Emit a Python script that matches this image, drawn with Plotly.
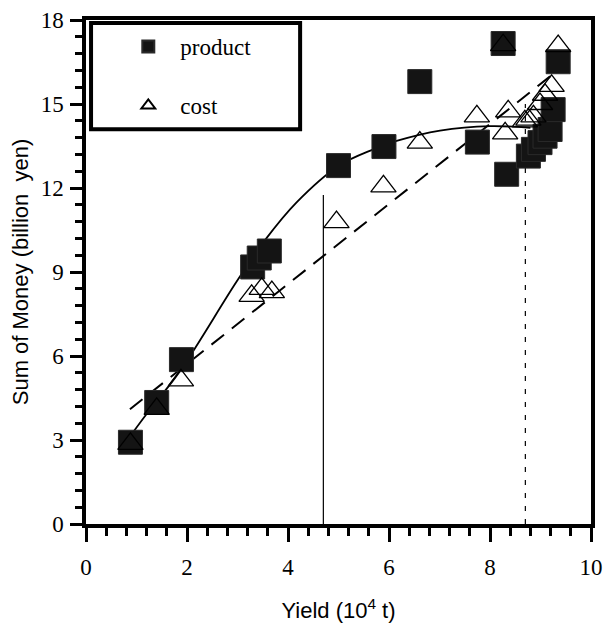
import plotly.graph_objects as go

# ---- data ----
product_x = [0.88, 1.40, 1.89, 3.30, 3.43, 3.63, 5.00, 5.90, 6.61, 7.75, 8.26, 8.33,
             8.76, 8.86, 8.99, 9.09, 9.19, 9.25, 9.35]
product_y = [2.92, 4.34, 5.87, 9.18, 9.50, 9.75, 12.80, 13.48, 15.80, 13.64, 17.16, 12.49,
             13.14, 13.38, 13.62, 13.85, 14.09, 14.80, 16.51]

cost_x = [0.88, 1.40, 1.88, 3.28, 3.48, 3.68, 4.96, 5.89, 6.61, 7.74, 8.26, 8.30,
          8.36, 8.69, 8.76, 8.86, 8.99, 9.09, 9.22, 9.35]
cost_y = [2.86, 4.11, 5.13, 8.15, 8.40, 8.28, 10.78, 12.06, 13.62, 14.56, 17.10, 13.95,
          14.74, 14.38, 14.44, 14.56, 15.00, 15.33, 15.65, 17.07]

# fitted curve for product (solid) and line for cost (dashed)
product_fit_x = [0.88, 1.20, 1.86, 2.98, 3.54, 4.17, 5.00, 5.69, 6.15, 7.01, 8.00, 8.80]
product_fit_y = [3.15, 3.93, 5.46, 8.65, 10.13, 11.49, 12.79, 13.38, 13.68, 14.05, 14.21, 14.15]
cost_fit_x = [0.87, 9.20]
cost_fit_y = [4.10, 16.00]

# vertical reference lines
solid_vline_x = [4.70, 4.70]
solid_vline_y = [0.0, 11.75]
dashed_vline_x = [8.70, 8.70]
dashed_vline_y = [0.0, 15.0]

x_ticks = [0, 2, 4, 6, 8, 10]
y_ticks = [0, 3, 6, 9, 12, 15, 18]

serif = "Liberation Serif, Times New Roman, serif"
sans = "Liberation Sans, Arial, sans-serif"

fig = go.Figure()

fig.add_trace(go.Scatter(x=solid_vline_x, y=solid_vline_y, mode="lines",
                         line=dict(color="black", width=1.2), showlegend=False, hoverinfo="skip"))
fig.add_trace(go.Scatter(x=dashed_vline_x, y=dashed_vline_y, mode="lines",
                         line=dict(color="black", width=1.2, dash="5px,8px"),
                         showlegend=False, hoverinfo="skip"))
fig.add_trace(go.Scatter(x=product_fit_x, y=product_fit_y, mode="lines",
                         line=dict(color="black", width=1.8, shape="spline", smoothing=1.0),
                         showlegend=False, hoverinfo="skip"))
fig.add_trace(go.Scatter(x=cost_fit_x, y=cost_fit_y, mode="lines",
                         line=dict(color="black", width=2, dash="16px,10px"),
                         showlegend=False, hoverinfo="skip"))

fig.add_trace(go.Scatter(x=product_x, y=product_y, mode="markers", name="product",
                         legendgroup="p",
                         marker=dict(symbol="square", size=24, color="#141414",
                                     line=dict(color="#2a2a2a", width=1))))
fig.add_trace(go.Scatter(x=cost_x, y=cost_y, mode="markers", name="cost",
                         legendgroup="c",
                         marker=dict(symbol="triangle-up-open", size=22, color="black",
                                     line=dict(width=1.3))))

axis_common = dict(showline=True, linewidth=3.5, linecolor="black", mirror=True,
                   showgrid=False, zeroline=False, ticks="outside", tickcolor="black",
                   tickwidth=3, automargin=False, ticklabeloverflow="allow",
                   tickfont=dict(family=serif, size=23, color="black"))

fig.update_xaxes(range=[0, 10], tickvals=x_ticks, ticklen=14, ticklabelstandoff=6,
                 minor=dict(dtick=0.4, ticks="outside", ticklen=8, tickwidth=3, tickcolor="black"),
                 title=dict(text="Yield (10<sup>4</sup> t)",
                            font=dict(family=sans, size=22, color="black"), standoff=24),
                 **axis_common)
fig.update_yaxes(range=[0, 18], tickvals=y_ticks, ticklen=12, ticklabelstandoff=2,
                 minor=dict(dtick=0.6, ticks="outside", ticklen=7, tickwidth=3, tickcolor="black"),
                 title=dict(text="Sum of Money (billion  yen)",
                            font=dict(family=sans, size=22, color="black"), standoff=10),
                 **axis_common)

# legend frame
fig.add_shape(type="rect", xref="paper", yref="paper", x0=0.01, x1=0.424, y0=0.783, y1=0.994,
              line=dict(color="black", width=4), fillcolor="white", layer="below")

# page body has an 8px default margin, so the figure is 8px smaller on each axis
fig.update_layout(
    width=608, height=624,
    margin=dict(l=78, r=25, t=12, b=108, autoexpand=False),
    plot_bgcolor="white", paper_bgcolor="white",
    legend=dict(x=0.06, y=0.99, xanchor="left", yanchor="top",
                bgcolor="rgba(0,0,0,0)", borderwidth=0,
                font=dict(family=serif, size=23, color="black"),
                itemwidth=54, itemsizing="constant", tracegroupgap=26,
                traceorder="grouped"),
)

fig.write_html("out.html")
